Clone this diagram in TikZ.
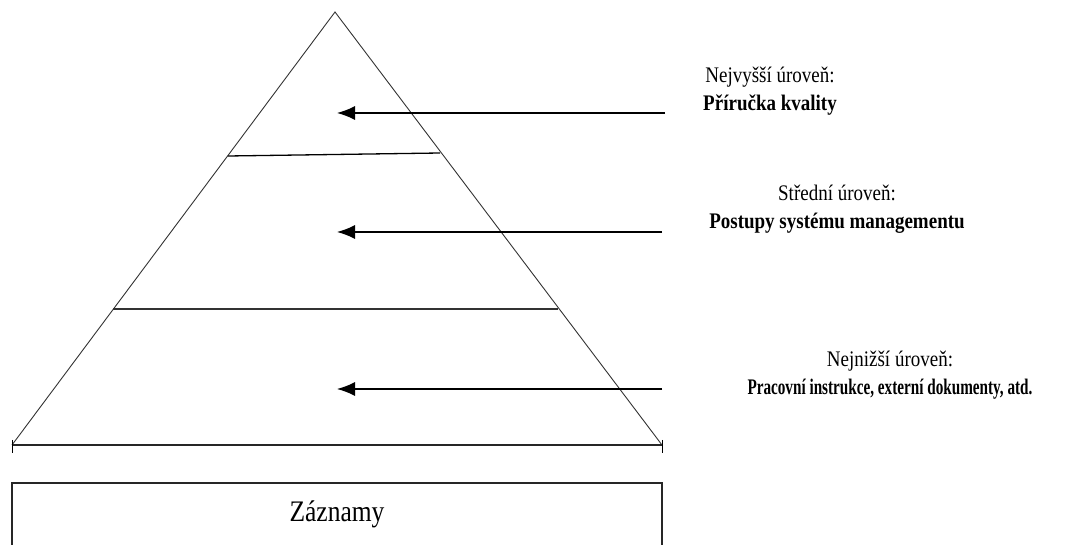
\documentclass[tikz,border=0pt]{standalone}
\usepackage{fontspec}
\setmainfont{Liberation Serif}
\usetikzlibrary{arrows.meta}
% two-line level description, slightly stretched upright
\newcommand{\levelpair}[2]{\scalebox{1}[1.17]{\begin{tabular}{@{}c@{}}#1\\\textbf{#2}\end{tabular}}}
\begin{document}
\begin{tikzpicture}[x=1pt,y=-1pt,
  side/.style={line width=0.9pt, draw=black!80},
  divider/.style={line width=1.3pt},
  pointer/.style={line width=1.3pt, -{Latex[length=18pt,width=14pt]}},
  level/.style={font=\fontsize{19}{24}\selectfont, inner sep=0pt},
]
\useasboundingbox (0,0) rectangle (1088,545);
\clip (0,0) rectangle (1088,545);

% pyramid outline
\coordinate (apex) at (335,12);
\coordinate (bl) at (12,445);
\coordinate (br) at (662,445);
\draw[side] (bl) -- (apex) -- (br);
\draw[line width=1.6pt, draw=black!85] (bl) -- (br);
\draw[line width=0.9pt] (12,440) -- (12,453);
\draw[line width=0.9pt] (662,440) -- (662,453);

% level dividers
\coordinate (d1l) at (228,156);
\coordinate (d1r) at (440,153);
\coordinate (d2l) at (113,309);
\coordinate (d2r) at (558,309);
\draw[divider] (d1l) -- (d1r);
\draw[divider, draw=black!80] (d2l) -- (d2r);

% records box (runs past the lower edge)
\draw[line width=1.3pt, draw=black!85] (12,483) rectangle (662,570);
\node (records) at (337,514) {\fontsize{25.5}{30}\selectfont\scalebox{1}[1.17]{Záznamy}};

% level descriptions
\node[level] (top) at (770,91) {\levelpair{Nejvyšší úroveň:}{Příručka kvality}};
\node[level] (mid) at (837,209) {\levelpair{Střední úroveň:}{Postupy systému managementu}};
\node[level] (low) at (890,375) {\levelpair{Nejnižší úroveň:}{\scalebox{0.8}[1]{Pracovní instrukce, externí dokumenty, atd.}}};

% pointers into the pyramid
\coordinate (t1) at (665,113);
\coordinate (h1) at (337,113);
\coordinate (t2) at (662,232);
\coordinate (h2) at (337,232);
\coordinate (t3) at (662,389);
\coordinate (h3) at (337,389);
\draw[pointer] (t1) -- (h1);
\draw[pointer] (t2) -- (h2);
\draw[pointer] (t3) -- (h3);
\end{tikzpicture}
\end{document}
